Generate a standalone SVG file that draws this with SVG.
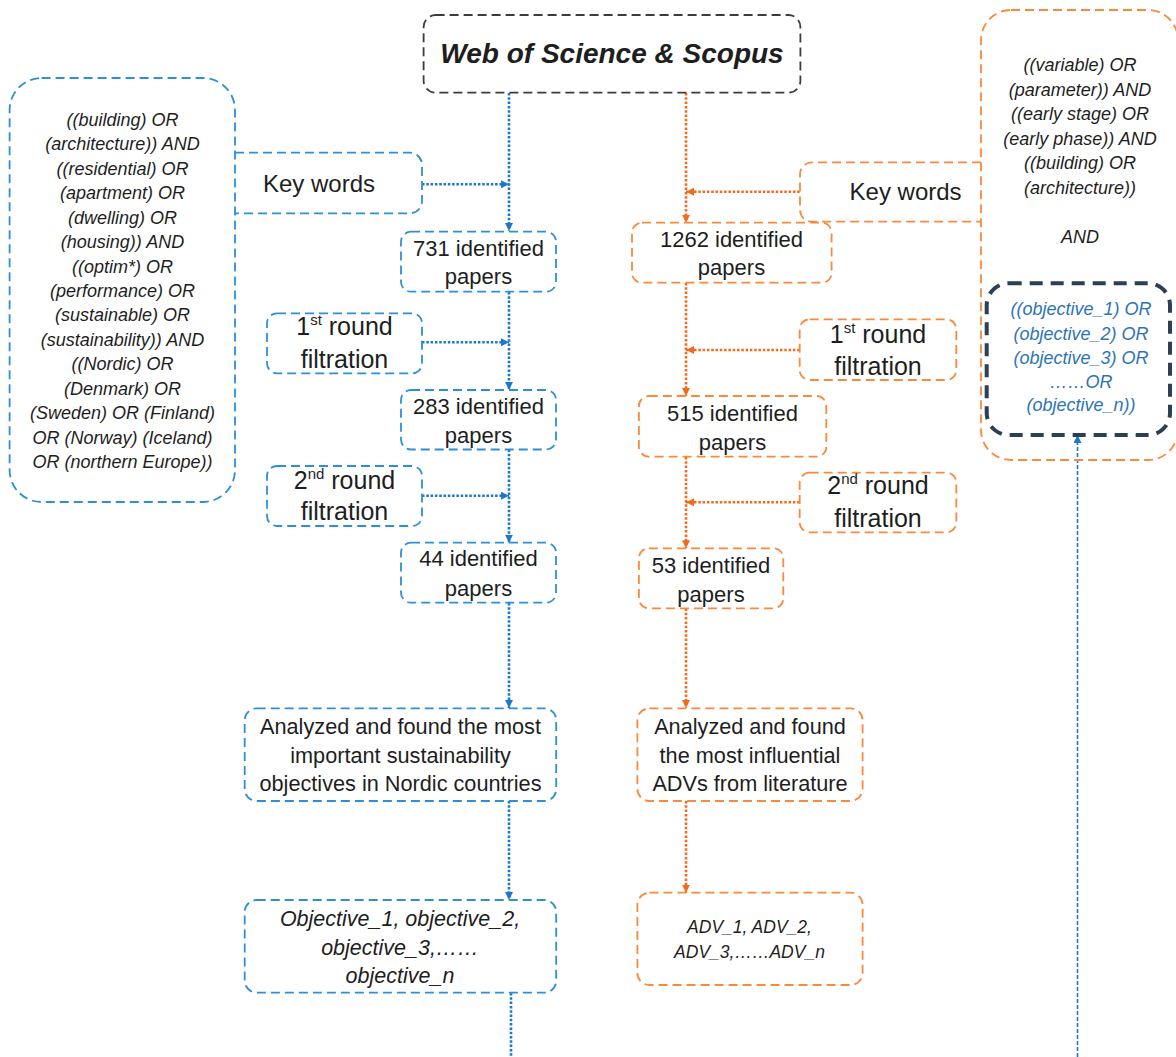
<svg xmlns="http://www.w3.org/2000/svg" width="1176" height="1057" viewBox="0 0 1176 1057">
<style>
text{font-family:"Liberation Sans",Arial,sans-serif;fill:#1e1e1e;text-anchor:middle}
.bbox{fill:none;stroke:#2d8fd8;stroke-width:1.8;stroke-dasharray:9 5}
.obox{fill:none;stroke:#f98a3c;stroke-width:1.8;stroke-dasharray:9 5}
.gbox{fill:none;stroke:#3c3c3c;stroke-width:1.8;stroke-dasharray:9 5}
.dbox{fill:none;stroke:#2b3f55;stroke-width:4;stroke-dasharray:13 8}
.q{font-size:18px;font-style:italic}
.qb{font-size:18px;font-style:italic;fill:#2e74b5}
.kw{font-size:24px}
.fl{font-size:25px}
.id{font-size:22px}
.an{font-size:21.7px}
.ob{font-size:21.5px;font-style:italic}
.adv{font-size:17.5px;font-style:italic}
.bl{fill:none;stroke:#1d78cc;stroke-width:2.6;stroke-dasharray:2.5 1.8}
.ol{fill:none;stroke:#f26b1d;stroke-width:2.6;stroke-dasharray:2.5 1.8}
.thin{fill:none;stroke:#1d78cc;stroke-width:1.6;stroke-dasharray:4 2}
</style>
<defs>
<marker id="ab" viewBox="0 0 10 10" refX="10" refY="5" markerWidth="8" markerHeight="8" markerUnits="userSpaceOnUse" orient="auto"><path d="M0,0 L10,5 L0,10 z" fill="#1d78cc"/></marker>
<marker id="ao" viewBox="0 0 10 10" refX="10" refY="5" markerWidth="8" markerHeight="8" markerUnits="userSpaceOnUse" orient="auto"><path d="M0,0 L10,5 L0,10 z" fill="#f26b1d"/></marker>
</defs>

<g id="connectors">
<path class="bl" d="M509,93 V231" marker-end="url(#ab)"/>
<path class="bl" d="M422,184.3 H509" marker-end="url(#ab)"/>
<path class="bl" d="M509,292 V390" marker-end="url(#ab)"/>
<path class="bl" d="M422,342.3 H509" marker-end="url(#ab)"/>
<path class="bl" d="M509,449.5 V542.7" marker-end="url(#ab)"/>
<path class="bl" d="M422,495.7 H509" marker-end="url(#ab)"/>
<path class="bl" d="M509,603 V708" marker-end="url(#ab)"/>
<path class="bl" d="M509,801 V900" marker-end="url(#ab)"/>
<path class="bl" d="M511,993 V1057"/>
<path class="thin" d="M1077.5,1057 V435" marker-end="url(#ab)"/>
<path class="ol" d="M686,93 V222.7" marker-end="url(#ao)"/>
<path class="ol" d="M799.7,191.7 H686" marker-end="url(#ao)"/>
<path class="ol" d="M686,283 V396" marker-end="url(#ao)"/>
<path class="ol" d="M799.7,350 H686" marker-end="url(#ao)"/>
<path class="ol" d="M686,457 V548.3" marker-end="url(#ao)"/>
<path class="ol" d="M799.7,502.3 H686" marker-end="url(#ao)"/>
<path class="ol" d="M686,608.5 V708" marker-end="url(#ao)"/>
<path class="ol" d="M686,801 V892.7" marker-end="url(#ao)"/>
</g>

<g id="source">
<rect class="gbox" x="423.6" y="15" width="376.8" height="77.7" rx="12"/>
<text x="612" y="63" style="font-size:28px;font-weight:bold;font-style:italic">Web of Science &amp; Scopus</text>
</g>

<g id="query-left">
<rect class="bbox" x="9.6" y="78" width="225.4" height="424" rx="32"/>
<text class="q" x="122.5" y="126">((building) OR</text>
<text class="q" x="122.5" y="150.4">(architecture)) AND</text>
<text class="q" x="122.5" y="174.9">((residential) OR</text>
<text class="q" x="122.5" y="199.3">(apartment) OR</text>
<text class="q" x="122.5" y="223.7">(dwelling) OR</text>
<text class="q" x="122.5" y="248.2">(housing)) AND</text>
<text class="q" x="122.5" y="272.6">((optim*) OR</text>
<text class="q" x="122.5" y="297">(performance) OR</text>
<text class="q" x="122.5" y="321.4">(sustainable) OR</text>
<text class="q" x="122.5" y="345.9">(sustainability)) AND</text>
<text class="q" x="122.5" y="370.3">((Nordic) OR</text>
<text class="q" x="122.5" y="394.7">(Denmark) OR</text>
<text class="q" x="122.5" y="419.2">(Sweden) OR (Finland)</text>
<text class="q" x="122.5" y="443.6">OR (Norway) (Iceland)</text>
<text class="q" x="122.5" y="468">OR (northern Europe))</text>
</g>

<g id="keywords-left">
<path class="bbox" d="M235,152.7 H410 a12,12 0 0 1 12,12 V201.3 a12,12 0 0 1 -12,12 H235"/>
<text class="kw" x="319" y="192">Key words</text>
</g>

<g id="papers-731">
<rect class="bbox" x="401" y="231.7" width="155" height="60" rx="10"/>
<text class="id" x="478.5" y="256">731 identified</text>
<text class="id" x="478.5" y="284">papers</text>
</g>

<g id="filter1-left">
<rect class="bbox" x="267" y="313.3" width="155" height="60" rx="10"/>
<text class="fl" x="344.5" y="335">1<tspan font-size="15" dy="-10">st</tspan><tspan dy="10"> round</tspan></text>
<text class="fl" x="344.5" y="367.5">filtration</text>
</g>

<g id="papers-283">
<rect class="bbox" x="401" y="390" width="155" height="59.5" rx="10"/>
<text class="id" x="478.5" y="414">283 identified</text>
<text class="id" x="478.5" y="443">papers</text>
</g>

<g id="filter2-left">
<rect class="bbox" x="267" y="466" width="155" height="60" rx="10"/>
<text class="fl" x="344.5" y="489">2<tspan font-size="15" dy="-10">nd</tspan><tspan dy="10"> round</tspan></text>
<text class="fl" x="344.5" y="520">filtration</text>
</g>

<g id="papers-44">
<rect class="bbox" x="401" y="542.7" width="155" height="60" rx="10"/>
<text class="id" x="478.5" y="566">44 identified</text>
<text class="id" x="478.5" y="596">papers</text>
</g>

<g id="analyzed-left">
<rect class="bbox" x="244.7" y="708.3" width="311.5" height="92.7" rx="12"/>
<text class="an" x="400.5" y="734">Analyzed and found the most</text>
<text class="an" x="400.5" y="763">important sustainability</text>
<text class="an" x="400.5" y="791">objectives in Nordic countries</text>
</g>

<g id="objectives">
<rect class="bbox" x="244.7" y="900" width="311.5" height="92.7" rx="12"/>
<text class="ob" x="400" y="926">Objective_1, objective_2,</text>
<text class="ob" x="400" y="955">objective_3,……</text>
<text class="ob" x="400" y="983">objective_n</text>
</g>

<g id="query-right">
<rect class="obox" x="981" y="10" width="197" height="450" rx="30"/>
<text class="q" x="1080" y="71">((variable) OR</text>
<text class="q" x="1080" y="95.5">(parameter)) AND</text>
<text class="q" x="1080" y="120">((early stage) OR</text>
<text class="q" x="1080" y="144.5">(early phase)) AND</text>
<text class="q" x="1080" y="169">((building) OR</text>
<text class="q" x="1080" y="193.5">(architecture))</text>
<text class="q" x="1080" y="243">AND</text>
</g>

<g id="objective-query">
<rect class="dbox" x="986.7" y="283.3" width="183.3" height="151.7" rx="22"/>
<text class="qb" x="1081" y="314.5">((objective_1) OR</text>
<text class="qb" x="1081" y="339.5">(objective_2) OR</text>
<text class="qb" x="1081" y="363.5">(objective_3) OR</text>
<text class="qb" x="1081" y="387.5">……OR</text>
<text class="qb" x="1081" y="411">(objective_n))</text>
</g>

<g id="keywords-right">
<path class="obox" d="M981,162.3 H812 a12,12 0 0 0 -12,12 V209.7 a12,12 0 0 0 12,12 H981"/>
<text class="kw" x="905.6" y="200">Key words</text>
</g>

<g id="papers-1262">
<rect class="obox" x="632" y="222.7" width="199.6" height="60" rx="10"/>
<text class="id" x="731.5" y="247">1262 identified</text>
<text class="id" x="731.5" y="275">papers</text>
</g>

<g id="filter1-right">
<rect class="obox" x="799.7" y="319.3" width="156.6" height="60.7" rx="10"/>
<text class="fl" x="878" y="343">1<tspan font-size="15" dy="-10">st</tspan><tspan dy="10"> round</tspan></text>
<text class="fl" x="878" y="375">filtration</text>
</g>

<g id="papers-515">
<rect class="obox" x="638.9" y="396" width="187.4" height="60.7" rx="10"/>
<text class="id" x="732.5" y="421">515 identified</text>
<text class="id" x="732.5" y="450">papers</text>
</g>

<g id="filter2-right">
<rect class="obox" x="799.7" y="472.7" width="156.6" height="59.6" rx="10"/>
<text class="fl" x="878" y="494">2<tspan font-size="15" dy="-10">nd</tspan><tspan dy="10"> round</tspan></text>
<text class="fl" x="878" y="526.5">filtration</text>
</g>

<g id="papers-53">
<rect class="obox" x="638.9" y="548.3" width="144.4" height="60" rx="10"/>
<text class="id" x="711" y="573">53 identified</text>
<text class="id" x="711" y="602">papers</text>
</g>

<g id="analyzed-right">
<rect class="obox" x="637.4" y="708.3" width="225.2" height="92.7" rx="12"/>
<text class="an" x="750" y="734">Analyzed and found</text>
<text class="an" x="750" y="763">the most influential</text>
<text class="an" x="750" y="791">ADVs from literature</text>
</g>

<g id="advs">
<rect class="obox" x="637.4" y="892.7" width="225.2" height="92.3" rx="12"/>
<text class="adv" x="749.5" y="933">ADV_1, ADV_2,</text>
<text class="adv" x="749.5" y="958">ADV_3,……ADV_n</text>
</g>
</svg>
